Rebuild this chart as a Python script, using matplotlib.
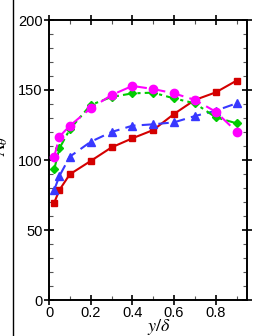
import matplotlib
matplotlib.use("Agg")
import matplotlib.pyplot as plt
from matplotlib.lines import Line2D
from matplotlib.ticker import MultipleLocator, FuncFormatter

plt.rcParams['font.family'] = ['Liberation Sans', 'DejaVu Sans']
plt.rcParams['mathtext.fontset'] = 'stix'

# data
y_delta = [0.025, 0.05, 0.1, 0.2, 0.3, 0.4, 0.5, 0.6, 0.7, 0.8, 0.9]
red_vals = [69.5, 78.6, 89.8, 99.3, 109, 115.5, 121.4, 132.9, 142.9, 148.3, 156.7]
blue_vals = [78.6, 88.6, 102.4, 113, 120, 124.5, 125.5, 126.9, 131.4, 135.2, 140.5]
green_vals = [93.3, 108.3, 122, 139.3, 145, 147.6, 148.1, 144, 140.5, 130.5, 126.2]
pink_vals = [102.4, 116.7, 124.5, 136.9, 146.4, 152.9, 150.7, 147.6, 142.9, 134.5, 120.2]

fig = plt.figure(figsize=(2.6, 3.36), dpi=100)
ax = fig.add_axes([49/260, 36/336, 198/260, 280/336])

ax.plot(y_delta, red_vals, color='#d40000', lw=1.5, marker='s', ms=5, zorder=3)
ax.plot(y_delta, blue_vals, color='#3838ff', lw=1.5, marker='^', ms=5.5,
        dashes=(5, 3), zorder=4)
ax.plot(y_delta, green_vals, color='#00cc00', lw=1.5, marker='D', ms=4.5,
        dashes=(5, 2, 1.5, 2), zorder=5)
ax.plot(y_delta, pink_vals, color='#ff00ff', lw=1.5, marker='o', ms=6,
        dashes=(6, 3), zorder=6)

ax.set_xlim(0, 0.95)
ax.set_ylim(0, 200)
ax.xaxis.set_major_locator(MultipleLocator(0.2))
ax.xaxis.set_minor_locator(MultipleLocator(0.1))
ax.yaxis.set_major_locator(MultipleLocator(50))
ax.yaxis.set_minor_locator(MultipleLocator(10))
ax.xaxis.set_major_formatter(FuncFormatter(lambda v, p: '%g' % round(v, 2)))

for s in ax.spines.values():
    s.set_linewidth(1.4)
ax.tick_params(which='major', direction='inout', length=7, width=1.2,
               top=True, right=True, labelsize=10.5, pad=1)
ax.tick_params(which='minor', direction='in', length=3, width=0.8,
               top=True, right=True, color='#555555')

ax.set_xlabel(r'$y/\delta$', fontsize=13)
ax.xaxis.set_label_coords(0.555, -0.06)
ax.set_ylabel(r'$\Lambda_\theta$', fontsize=13)
ax.yaxis.set_label_coords(-0.195, 0.55)

# separator line at the left of the picture
fig.add_artist(Line2D([12.7/260, 12.7/260], [0, 1], color='black', lw=1.0,
                      transform=fig.transFigure))

fig.savefig('out.png', dpi=100)
